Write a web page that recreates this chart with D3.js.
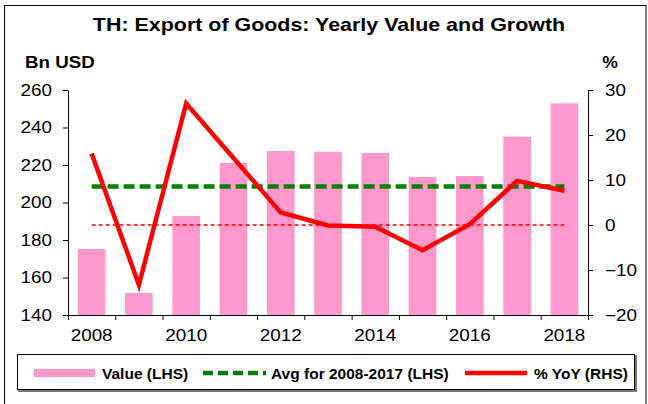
<!DOCTYPE html>
<html>
<head>
<meta charset="utf-8">
<script src="https://cdn.jsdelivr.net/npm/d3@7"></script>
<style>
  body { margin: 0; background: #fff; }
  svg { display: block; font-family: "Liberation Sans", Arial, sans-serif; }
</style>
</head>
<body>
<svg id="chart" width="648" height="404"></svg>
<script>
// data
var years = [2008, 2009, 2010, 2011, 2012, 2013, 2014, 2015, 2016, 2017, 2018];
var exportValue = [175.2, 151.7, 192.8, 221.1, 227.5, 227.1, 226.4, 213.6, 214.1, 235.1, 252.9];
var yoyGrowth = [15.9, -13.3, 27.0, 14.9, 2.8, -0.1, -0.4, -5.6, 0.2, 9.8, 7.6];
var avgValue = 208.5;
var leftTicks = [140, 160, 180, 200, 220, 240, 260];
var rightTicks = [-20, -10, 0, 10, 20, 30];
var labelYears = [2008, 2010, 2012, 2014, 2016, 2018];
var legendLabels = ["Value (LHS)", "Avg for 2008-2017 (LHS)", "% YoY (RHS)"];

var svg = d3.select("#chart");
var plotLeft = 68, plotRight = 588, plotTop = 90, plotBottom = 315;
var textStretch = 1.18;

// outer frame
svg.append("rect")
    .attr("x", 4.5).attr("y", 5.5)
    .attr("width", 641.5).attr("height", 420)
    .attr("fill", "#fff").attr("stroke", "#000").attr("stroke-width", 1);

// title
svg.append("text")
    .attr("transform", "translate(329,31) scale(1.128,1)")
    .attr("text-anchor", "middle")
    .style("font-size", "19px").style("font-weight", "bold")
    .text("TH: Export of Goods: Yearly Value and Growth");

svg.append("text")
    .attr("transform", "translate(25,68) scale(1.17,1)")
    .style("font-size", "16px").style("font-weight", "bold")
    .text("Bn USD");
svg.append("text")
    .attr("transform", "translate(618,68) scale(1.1,1)")
    .attr("text-anchor", "end")
    .style("font-size", "16px").style("font-weight", "bold")
    .text("%");

// scales
var x = d3.scaleBand().domain(years).range([plotLeft, plotRight]).paddingInner(0.415).paddingOuter(0.2075);
var xEdge = d3.scaleLinear().domain([0, years.length]).range([plotLeft, plotRight]);
var y = d3.scaleLinear().domain([140, 260]).range([plotBottom, plotTop]);
var yR = d3.scaleLinear().domain([-20, 30]).range([plotBottom, plotTop]);
var cx = function(yr) { return x(yr) + x.bandwidth() / 2; };

// bars
svg.append("g")
    .selectAll("rect")
    .data(years)
    .enter()
    .append("rect")
        .attr("x", function(d) { return x(d); })
        .attr("y", function(d, i) { return y(exportValue[i]); })
        .attr("width", x.bandwidth())
        .attr("height", function(d, i) { return y(140) - y(exportValue[i]); })
        .attr("fill", "#ff99cc");

// axes
function styleAxis(g) {
    g.selectAll("path, line").attr("stroke", "#000").attr("stroke-width", 1);
    g.selectAll("text").style("font-size", "16px").attr("fill", "#000")
        .attr("font-family", "Liberation Sans, Arial, sans-serif");
}

var gl = svg.append("g")
    .attr("transform", "translate(" + plotLeft + ",0)")
    .call(d3.axisLeft(y).tickValues(leftTicks).tickSize(5).tickSizeOuter(0).tickPadding(8.6));
styleAxis(gl);
gl.selectAll("text").attr("transform", "scale(" + textStretch + ",1)");

var gr = svg.append("g")
    .attr("transform", "translate(" + plotRight + ",0)")
    .call(d3.axisRight(yR).tickValues(rightTicks).tickSize(5).tickSizeOuter(0).tickPadding(9.4));
styleAxis(gr);
gr.selectAll("text").attr("transform", "scale(" + textStretch + ",1)");

var gb = svg.append("g")
    .attr("transform", "translate(0," + plotBottom + ")")
    .call(d3.axisBottom(xEdge).tickValues(d3.range(0, years.length + 1)).tickFormat("").tickSize(5).tickSizeOuter(0));
styleAxis(gb);

var gbl = svg.append("g")
    .attr("transform", "translate(0," + plotBottom + ")")
    .call(d3.axisBottom(x).tickValues(labelYears).tickSize(0).tickPadding(15));
gbl.select(".domain").remove();
styleAxis(gbl);
gbl.selectAll("text").attr("transform", "scale(" + textStretch + ",1)");

// average line
svg.append("line")
    .attr("x1", cx(years[0])).attr("x2", cx(years[years.length - 1]))
    .attr("y1", y(avgValue)).attr("y2", y(avgValue))
    .attr("stroke", "#008000").attr("stroke-width", 4.5)
    .attr("stroke-dasharray", "11,5");

// zero line (RHS)
svg.append("line")
    .attr("x1", cx(years[0])).attr("x2", cx(years[years.length - 1]))
    .attr("y1", yR(0)).attr("y2", yR(0))
    .attr("stroke", "#ff0000").attr("stroke-width", 1.5)
    .attr("stroke-dasharray", "4,3");

// yoy line
var line = d3.line()
    .x(function(d, i) { return cx(years[i]); })
    .y(function(d) { return yR(d); });
svg.append("path")
    .datum(yoyGrowth)
    .attr("d", line)
    .attr("fill", "none")
    .attr("stroke", "#ff0000")
    .attr("stroke-width", 4.5)
    .attr("stroke-linejoin", "miter");

// legend
var lg = svg.append("g");
lg.append("rect")
    .attr("x", 19).attr("y", 356).attr("width", 617).attr("height", 35)
    .attr("fill", "none").attr("stroke", "#777").attr("stroke-width", 2);
lg.append("rect")
    .attr("x", 17.5).attr("y", 354.5).attr("width", 617).attr("height", 35)
    .attr("fill", "#fff").attr("stroke", "#000").attr("stroke-width", 1);

var ly = 373;
lg.append("line").attr("x1", 34).attr("x2", 95).attr("y1", ly).attr("y2", ly)
    .attr("stroke", "#ff99cc").attr("stroke-width", 8);
lg.append("line").attr("x1", 203).attr("x2", 266).attr("y1", ly).attr("y2", ly)
    .attr("stroke", "#008000").attr("stroke-width", 4.5).attr("stroke-dasharray", "10,5");
lg.append("line").attr("x1", 465).attr("x2", 527).attr("y1", ly).attr("y2", ly)
    .attr("stroke", "#ff0000").attr("stroke-width", 4.5);

var legendX = [102, 271, 534];
lg.selectAll("text.leg")
    .data(legendLabels)
    .enter()
    .append("text")
        .attr("class", "leg")
        .attr("x", function(d, i) { return legendX[i]; })
        .attr("y", 378.5)
        .style("font-size", "15.5px").style("font-weight", "bold")
        .text(function(d) { return d; });
</script>
</body>
</html>
